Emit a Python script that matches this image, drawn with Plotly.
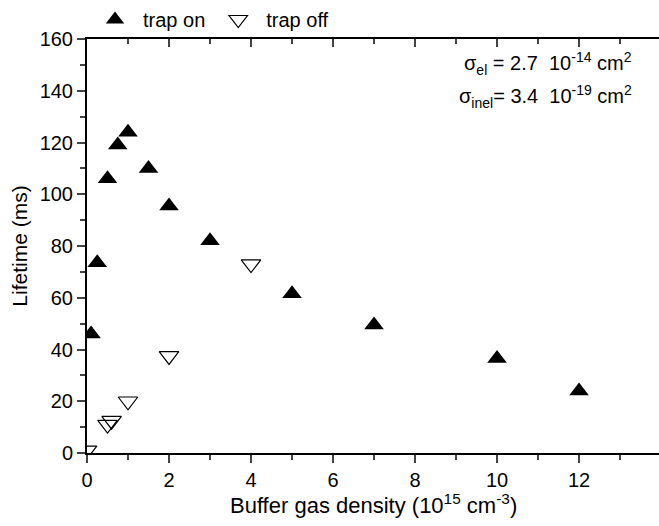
import plotly.graph_objects as go

on_x = [0.1, 0.25, 0.5, 0.75, 1.0, 1.5, 2, 3, 5, 7, 10, 12]
on_y = [46, 73.5, 106, 119, 124, 110, 95.5, 82, 61.5, 49.5, 36.5, 24]
off_x = [0, 0.5, 0.6, 1.0, 2, 4]
off_y = [1, 11, 12.5, 20, 37.5, 73]

font = dict(family="Liberation Sans, Arial", color="black")

fig = go.Figure()
fig.add_trace(go.Scatter(x=on_x, y=on_y, mode="markers", name="trap on",
                         marker=dict(symbol="triangle-up", size=17, color="black")))
fig.add_trace(go.Scatter(x=off_x, y=off_y, mode="markers", name="trap off",
                         marker=dict(symbol="triangle-down-open", size=17, color="black",
                                     line=dict(width=1.2))))
fig.add_trace(go.Scatter(x=[None], y=[None], xaxis="x2", showlegend=False, hoverinfo="skip"))

fig.update_layout(
    width=659, height=526,
    margin=dict(l=87, r=0, t=32, b=73),
    plot_bgcolor="white", paper_bgcolor="white",
    font=dict(size=20, **font),
    showlegend=True,
    legend=dict(orientation="h", x=0.0, y=1.0, xanchor="left", yanchor="bottom",
                font=dict(size=20, **font), bgcolor="rgba(0,0,0,0)", itemwidth=46,
                tracegroupgap=0),
    xaxis=dict(range=[0, 13.95], tick0=0, dtick=2, ticks="outside", ticklen=8, tickwidth=2,
               showline=True, linewidth=2, linecolor="black", showgrid=False, zeroline=False,
               minor=dict(dtick=1, ticks="outside", ticklen=5, tickwidth=2),
               tickfont=dict(size=20, **font)),
    xaxis2=dict(overlaying="x", matches="x", side="top", anchor="y", range=[0, 13.95],
                tick0=0, dtick=2, ticks="inside", ticklen=8, tickwidth=2,
                showline=True, linewidth=2, linecolor="black", showgrid=False,
                zeroline=False, showticklabels=False,
                minor=dict(dtick=1, ticks="inside", ticklen=5, tickwidth=2)),
    yaxis=dict(range=[0, 160], tick0=0, dtick=20, ticks="outside", ticklen=8, tickwidth=2,
               showline=True, linewidth=2, linecolor="black", showgrid=False, zeroline=False,
               minor=dict(dtick=10, ticks="outside", ticklen=5, tickwidth=2),
               title=dict(text="Lifetime (ms)", font=dict(size=21, **font), standoff=6),
               tickfont=dict(size=20, **font)),
)

fig.add_annotation(xref="paper", yref="paper", x=0.5, y=-0.122, xanchor="center", yanchor="middle",
                   showarrow=False,
                   text="Buffer gas density (10<sup>15</sup> cm<sup>-3</sup>)",
                   font=dict(size=22, **font))
fig.add_annotation(xref="paper", yref="paper", x=0.956, y=0.94, xanchor="right", yanchor="middle",
                   showarrow=False, align="left",
                   text="σ<sub>el</sub> = 2.7  10<sup>-14</sup> cm<sup>2</sup>",
                   font=dict(size=20, **font))
fig.add_annotation(xref="paper", yref="paper", x=0.956, y=0.86, xanchor="right", yanchor="middle",
                   showarrow=False, align="left",
                   text="σ<sub>inel</sub>= 3.4  10<sup>-19</sup> cm<sup>2</sup>",
                   font=dict(size=20, **font))

fig.write_html("out.html")
